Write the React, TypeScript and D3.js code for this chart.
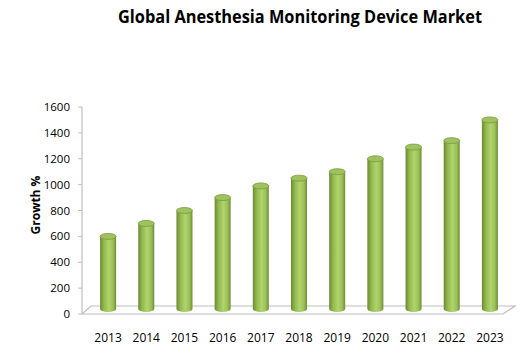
import React from "react";
import * as d3 from "d3";

const years = ["2013", "2014", "2015", "2016", "2017", "2018", "2019", "2020", "2021", "2022", "2023"];
const growth = [600, 700, 800, 900, 990, 1050, 1100, 1200, 1290, 1340, 1500];
const yTicks = [0, 200, 400, 600, 800, 1000, 1200, 1400, 1600];

const width = 525;
const height = 353;
const margin = { top: 107, right: 22, bottom: 39, left: 82 };
const depth = 8; // floor depth in px

export default function App() {
  const y = d3
    .scaleLinear()
    .domain([0, 1600])
    .range([height - margin.bottom, margin.top]);

  const x = d3
    .scaleBand()
    .domain(years)
    .range([89, 509])
    .paddingInner(0.58)
    .paddingOuter(0.29);

  const y0 = y(0);
  const barW = x.bandwidth();
  const rx = barW / 2;
  const ry = 3;
  const base = y0 - 5;

  return (
    <svg width={width} height={height} style={{ position: "absolute", left: 0, top: 0 }}>
      <defs>
        <linearGradient id="cyl" x1="0" x2="1" y1="0" y2="0">
          <stop offset="0" stopColor="#6c8a31" />
          <stop offset="0.25" stopColor="#93b951" />
          <stop offset="0.55" stopColor="#b1d46c" />
          <stop offset="0.8" stopColor="#9cc15a" />
          <stop offset="1" stopColor="#6f8e33" />
        </linearGradient>
      </defs>
      <rect width={width} height={height} fill="#fff" />

      <text
        x={300}
        y={23}
        textAnchor="middle"
        fontFamily="'Open Sans', sans-serif"
        fontWeight="bold"
        fontSize={17}
        textLength={364}
        lengthAdjust="spacingAndGlyphs"
        fill="#000"
      >
        Global Anesthesia Monitoring Device Market
      </text>

      {/* floor */}
      <path
        d={`M${margin.left},${y0} L${margin.left + 9},${y0 - depth} L${width - 10},${y0 - depth} L${width - 22},${y0} Z`}
        fill="#fff"
        stroke="#bfbfbf"
        strokeWidth={1.2}
      />

      {/* y axis */}
      <line x1={margin.left} x2={margin.left} y1={y(1600)} y2={y0} stroke="#bfbfbf" strokeWidth={1.2} />
      {yTicks.map(t => (
        <g key={t}>
          <line x1={margin.left - 4} x2={margin.left} y1={y(t)} y2={y(t)} stroke="#bfbfbf" />
          <text
            x={70}
            y={y(t)}
            dy="0.35em"
            textAnchor="end"
            fontFamily="'Open Sans', sans-serif"
            fontSize={11.5}
            fill="#000"
          >
            {t}
          </text>
        </g>
      ))}
      <text
        transform={`translate(40,205) rotate(-90)`}
        textAnchor="middle"
        fontFamily="'Open Sans', sans-serif"
        fontWeight="bold"
        fontSize={12}
        fill="#000"
      >
        Growth %
      </text>

      {/* cylinders */}
      {years.map((yr, i) => {
        const cx = (x(yr) as number) + rx;
        const top = y(growth[i]);
        return (
          <g key={yr}>
            <path
              d={`M${cx - rx},${top} L${cx - rx},${base} A${rx},${ry} 0 0 0 ${cx + rx},${base} L${cx + rx},${top} Z`}
              fill="url(#cyl)"
            />
            <ellipse cx={cx} cy={top} rx={rx} ry={ry} fill="#9ec25d" stroke="#7c9b3e" strokeWidth={0.8} />
          </g>
        );
      })}

      {/* x labels */}
      {years.map(yr => (
        <text
          key={yr}
          x={(x(yr) as number) + rx}
          y={338}
          dy="0.35em"
          textAnchor="middle"
          fontFamily="'Open Sans', sans-serif"
          fontSize={12}
          fill="#000"
        >
          {yr}
        </text>
      ))}
    </svg>
  );
}
